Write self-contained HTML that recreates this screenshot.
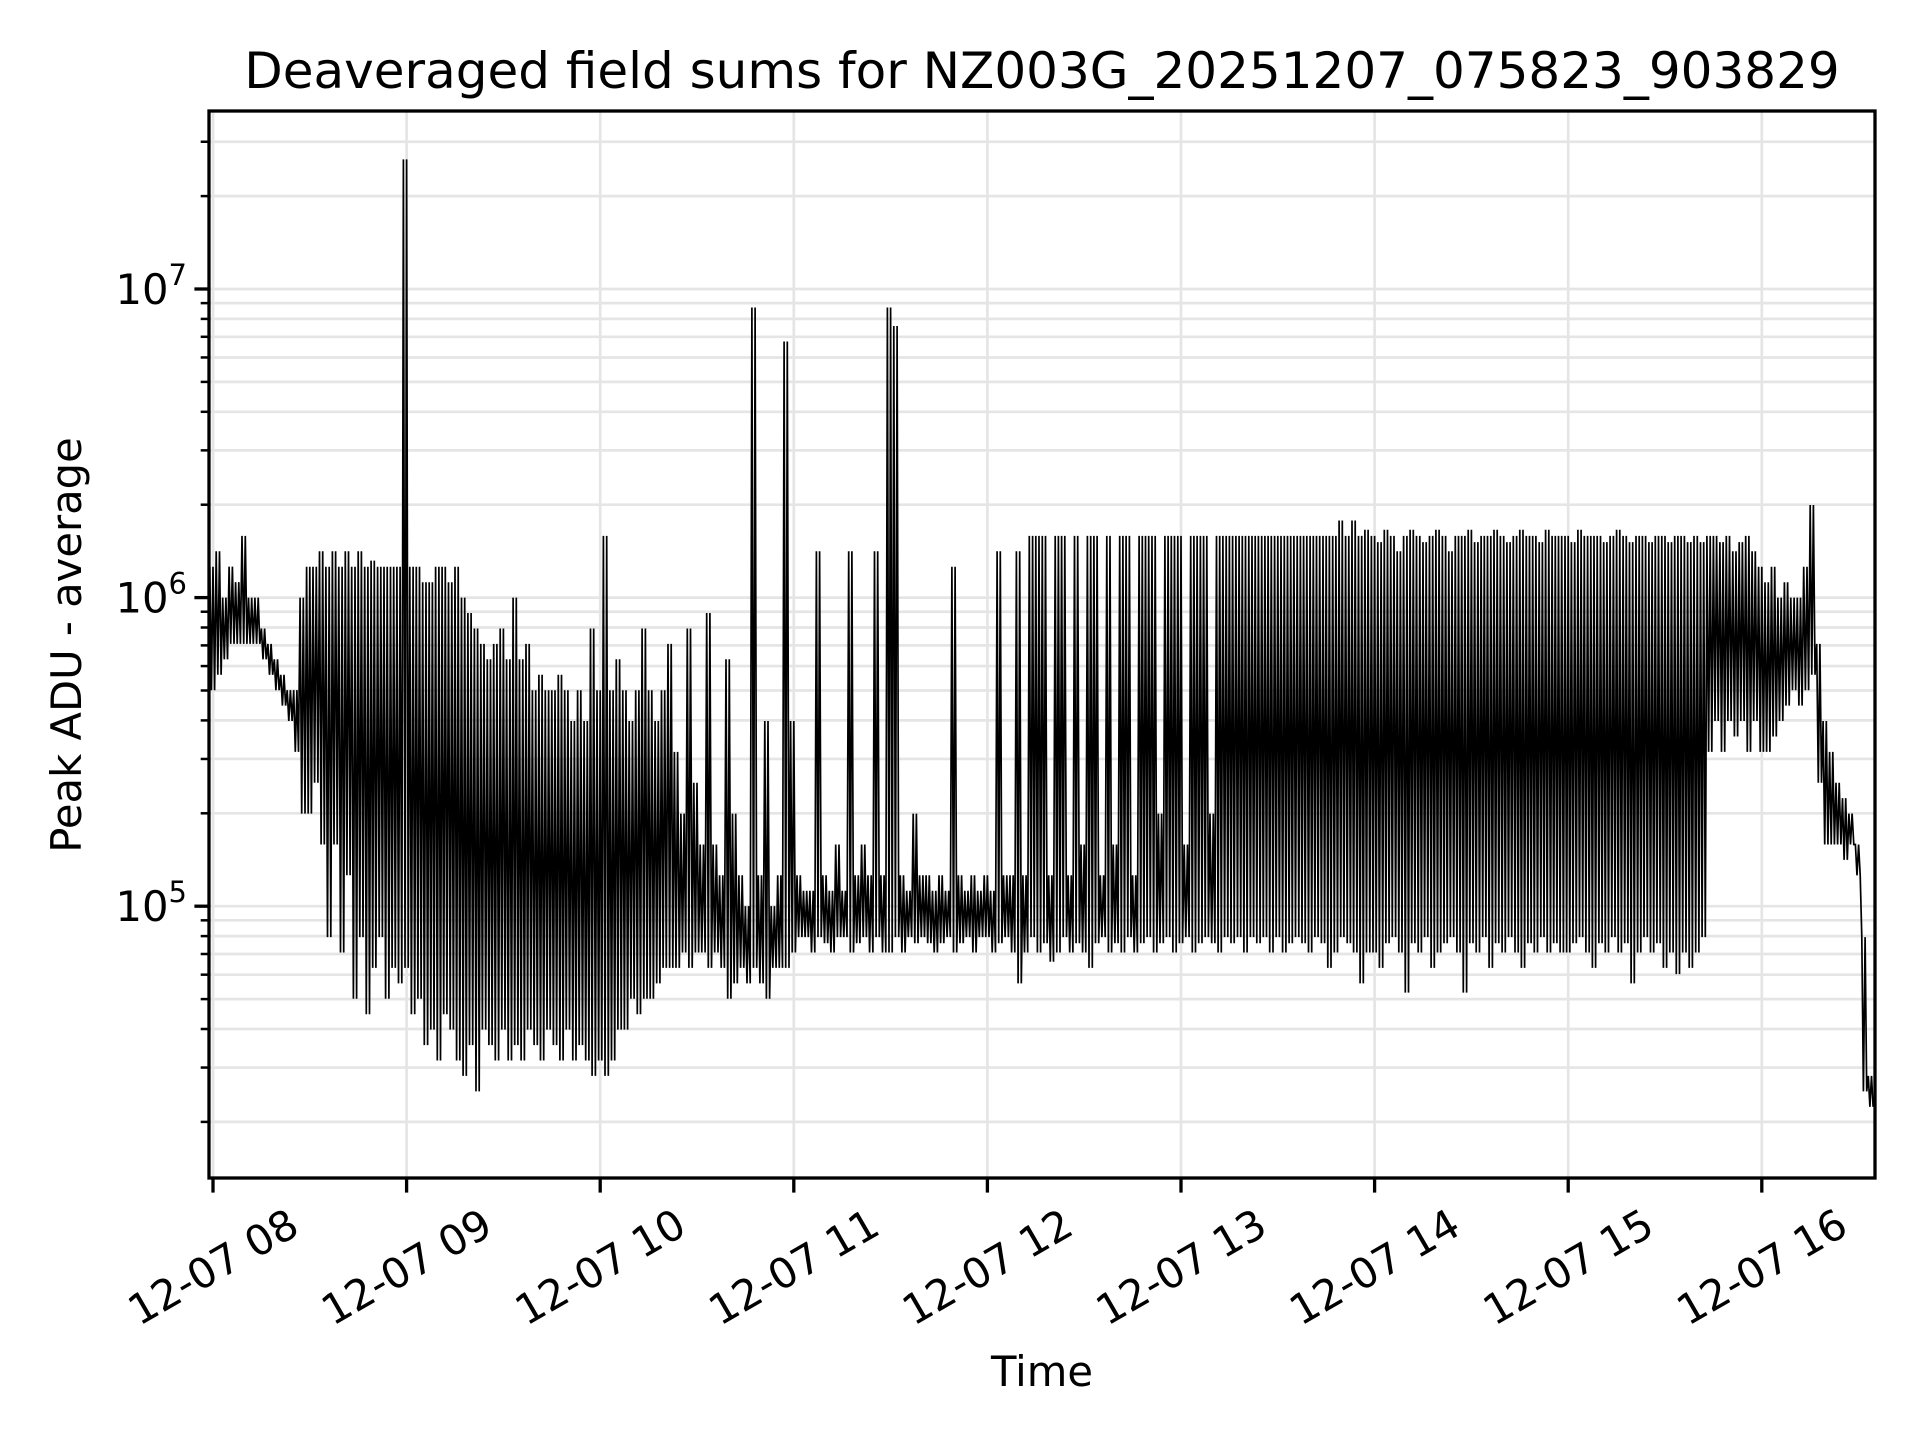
<!DOCTYPE html>
<html><head><meta charset="utf-8"><style>
html,body{margin:0;padding:0;background:#fff;}
svg{display:block;font-family:"DejaVu Sans","Liberation Sans",sans-serif;}
</style></head><body>
<svg id="chart" width="1920" height="1440" viewBox="0 0 1920 1440" xmlns="http://www.w3.org/2000/svg">
<rect width="1920" height="1440" fill="#fff"/>
<g id="grid"></g>
<g id="series"></g>
<g id="axes"></g>
<text x="1042" y="88" font-size="50" text-anchor="middle">Deaveraged field sums for NZ003G_20251207_075823_903829</text>
<text x="1042" y="1386" font-size="41.7" text-anchor="middle">Time</text>
<text x="0" y="0" font-size="41.7" text-anchor="middle" transform="translate(81,645) rotate(-90)">Peak ADU - average</text>
</svg>
<script>
// hour tick labels
const xTickLabels = ["12-07 08","12-07 09","12-07 10","12-07 11","12-07 12","12-07 13","12-07 14","12-07 15","12-07 16"];
const yTickExps = [5,6,7];
// 2-minute bins starting 07:59; log10 of high and low values in each bin
const binHi = [
6.1,6.15,6.0,6.1,6.05,6.2,6.0,6.0,5.9,5.85,5.8,5.75,5.7,5.7,6.0,6.1,6.1,6.15,6.1,6.15,6.1,6.15,6.1,6.15,6.1,6.12,6.1,6.1,6.1,6.1,
7.42,6.1,6.1,6.05,6.05,6.1,6.1,6.05,6.1,6.0,5.95,5.9,5.85,5.8,5.85,5.9,5.8,6.0,5.8,5.85,5.7,5.75,5.7,5.7,5.75,5.7,5.6,5.7,5.6,5.9,
5.7,6.2,5.7,5.8,5.7,5.6,5.7,5.9,5.7,5.6,5.7,5.85,5.5,5.3,5.9,5.4,5.2,5.95,5.2,5.1,5.8,5.3,5.1,5.0,6.94,5.1,5.6,5.0,5.1,6.83,
5.6,5.1,5.05,5.05,6.15,5.1,5.05,5.2,5.05,6.15,5.1,5.2,5.1,6.15,5.1,6.94,6.88,5.1,5.05,5.3,5.1,5.1,5.05,5.1,5.05,6.1,5.1,5.05,5.1,5.05,
5.1,5.05,6.15,5.1,5.1,6.15,5.1,6.2,6.2,6.2,5.1,6.2,6.2,5.1,6.2,5.2,6.2,6.2,5.1,6.2,5.2,6.2,6.2,5.1,6.2,6.2,6.2,5.3,6.2,6.2,
6.2,5.2,6.2,6.2,6.2,5.3,6.2,6.2,6.2,6.2,6.2,6.2,6.2,6.2,6.2,6.2,6.2,6.2,6.2,6.2,6.2,6.2,6.2,6.2,6.2,6.25,6.2,6.25,6.2,6.22,
6.2,6.18,6.22,6.2,6.15,6.2,6.22,6.2,6.18,6.2,6.22,6.2,6.15,6.2,6.2,6.22,6.18,6.2,6.2,6.22,6.2,6.18,6.2,6.22,6.2,6.2,6.18,6.22,6.2,6.2,
6.2,6.18,6.22,6.2,6.2,6.2,6.18,6.2,6.22,6.2,6.18,6.2,6.2,6.18,6.2,6.2,6.18,6.2,6.2,6.18,6.2,6.18,6.2,6.2,6.18,6.2,6.15,6.18,6.2,6.15,
6.1,6.05,6.1,6.0,6.05,6.0,6.0,6.1,6.3,5.85,5.6,5.5,5.4,5.35,5.3,5.2,4.9,4.45];
const binLo = [
5.7,5.75,5.8,5.85,5.85,5.85,5.85,5.85,5.8,5.75,5.7,5.65,5.6,5.5,5.3,5.3,5.4,5.2,4.9,5.2,4.85,5.1,4.7,4.9,4.65,4.8,4.9,4.7,4.8,4.75,
4.8,4.65,4.7,4.55,4.6,4.5,4.65,4.6,4.5,4.45,4.55,4.4,4.6,4.55,4.5,4.6,4.5,4.55,4.5,4.6,4.55,4.5,4.6,4.55,4.5,4.6,4.5,4.55,4.5,4.45,
4.5,4.45,4.5,4.6,4.6,4.7,4.65,4.7,4.7,4.75,4.8,4.8,4.8,4.85,4.8,4.85,4.85,4.8,4.85,4.8,4.7,4.75,4.8,4.75,4.8,4.75,4.7,4.8,4.8,4.8,
4.85,4.9,4.9,4.85,4.9,4.88,4.85,4.9,4.9,4.85,4.88,4.9,4.85,4.9,4.85,4.85,4.9,4.85,4.9,4.88,4.9,4.88,4.85,4.88,4.9,4.85,4.88,4.9,4.85,4.9,
4.9,4.85,4.88,4.9,4.85,4.75,4.85,4.9,4.85,4.88,4.82,4.85,4.9,4.85,4.88,4.85,4.8,4.88,4.9,4.85,4.88,4.85,4.9,4.85,4.88,4.9,4.85,4.88,4.9,4.85,
4.88,4.9,4.85,4.88,4.9,4.88,4.85,4.9,4.88,4.9,4.85,4.9,4.88,4.9,4.85,4.9,4.85,4.88,4.9,4.88,4.85,4.9,4.88,4.8,4.85,4.9,4.88,4.85,4.75,4.85,
4.85,4.8,4.88,4.9,4.85,4.72,4.88,4.85,4.9,4.8,4.85,4.88,4.9,4.85,4.72,4.88,4.85,4.9,4.8,4.88,4.85,4.9,4.85,4.8,4.88,4.85,4.9,4.85,4.88,4.85,
4.85,4.88,4.9,4.85,4.8,4.88,4.85,4.9,4.85,4.88,4.75,4.85,4.9,4.85,4.88,4.8,4.85,4.78,4.85,4.8,4.85,4.9,5.5,5.6,5.5,5.6,5.55,5.6,5.5,5.6,
5.5,5.5,5.55,5.6,5.65,5.7,5.65,5.7,5.75,5.4,5.2,5.2,5.2,5.15,5.2,5.1,4.4,4.35];

const NS = "http://www.w3.org/2000/svg";
const L = 209, R = 1875, T = 111, B = 1178;
const X8 = 213, PXH = 193.6;
const Y7 = 289, DEC = 308.6;
function xOf(minFrom8){ return X8 + minFrom8 / 60 * PXH; }
function yOf(lg){ return Y7 + (7 - lg) * DEC; }
function mk(tag, attrs, parent){ const e = document.createElementNS(NS, tag); for (const k in attrs) e.setAttribute(k, attrs[k]); parent.appendChild(e); return e; }
const grid = document.getElementById('grid'), axes = document.getElementById('axes'), series = document.getElementById('series');

for (let d = 4; d <= 7; d++) {
  for (let m = 1; m <= 9; m++) {
    const lg = d + Math.log10(m), y = yOf(lg);
    if (y < T || y > B) continue;
    const g = mk('line', {x1:L, x2:R, y1:y, y2:y, stroke:'#e5e5e5', 'stroke-width':2.7}, grid);
    
    
    const t = mk('line', {x1:L - (m === 1 ? 14.6 : 8.3), x2:L, y1:y, y2:y, stroke:'#000', 'stroke-width': m === 1 ? 3.3 : 2.5}, axes);
    
    
  }
}
yTickExps.forEach(e => {
  const y = yOf(e);
  const tx = mk('text', {x:L - 22, y:y + 15, 'font-size':41.7, 'text-anchor':'end'}, axes);
  
  
  tx.innerHTML = '10<tspan font-size="29" dy="-19">' + e + '</tspan>';
});
xTickLabels.forEach((lab, i) => {
  const x = xOf(i * 60);
  const g = mk('line', {x1:x, x2:x, y1:T, y2:B, stroke:'#e5e5e5', 'stroke-width':2.7}, grid);
  
  
  const t = mk('line', {x1:x, x2:x, y1:B, y2:B + 14.6, stroke:'#000', 'stroke-width':3.3}, axes);
  
  
  const tx = mk('text', {x:x, y:1267, 'font-size':41.7, 'text-anchor':'middle', 'dominant-baseline':'central', transform:'rotate(-30 ' + x + ' 1267)'}, axes);
  
  
  tx.textContent = lab;
});
// series: each bin drawn as two hi->lo oscillations
let d = '';
binHi.forEach((h, i) => {
  const t0 = -1 + 2 * i;
  for (let k = 0; k < 2; k++) {
    const a = xOf(t0 + k), b = xOf(t0 + k + 0.5);
    d += (d === '' ? 'M' : 'L') + a.toFixed(1) + ',' + yOf(h).toFixed(1) + 'L' + b.toFixed(1) + ',' + yOf(binLo[i]).toFixed(1);
  }
});
const p = mk('path', {d:d, fill:'none', stroke:'#000', 'stroke-width':1.7, 'stroke-linejoin':'miter'}, series);


const sp = mk('rect', {x:L, y:T, width:R - L, height:B - T, fill:'none', stroke:'#000', 'stroke-width':3.3}, axes);


</script>
</body></html>
